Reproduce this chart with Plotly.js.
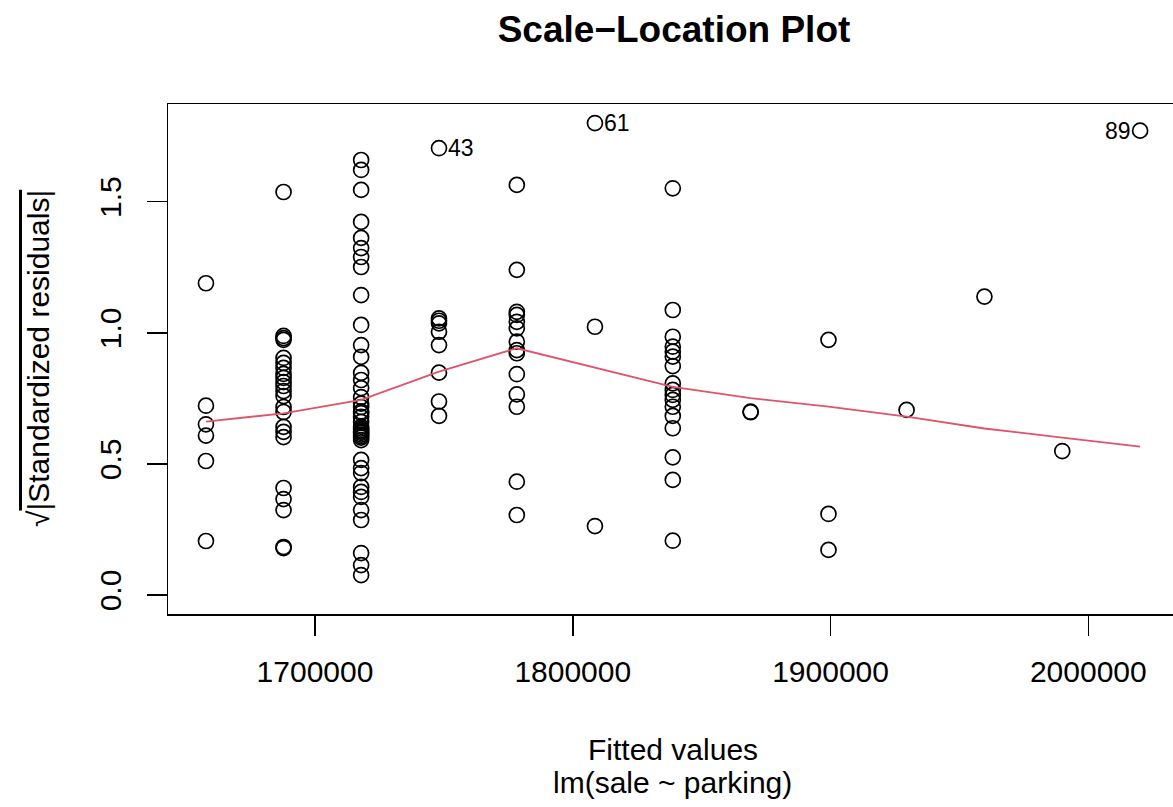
<!DOCTYPE html>
<html>
<head>
<meta charset="utf-8">
<script src="https://cdn.plot.ly/plotly-3.0.1.min.js"></script>
<style>html,body{margin:0;padding:0;background:#fff;}#chart{width:1173px;height:807px;}</style>
</head>
<body>
<div id="chart"></div>
<script>
// Fitted values (one per parking level) and sqrt(|standardized residuals|)
const fittedLevels = [1657700, 1687800, 1717900, 1748100, 1778300, 1808600, 1838800, 1869000, 1899200, 1929500, 1959700, 1989900, 2020100];

const resid0 = [1.189, 0.722, 0.651, 0.608, 0.511, 0.206];
const resid1 = [1.537, 0.988, 0.980, 0.973, 0.904, 0.885, 0.866, 0.843, 0.828, 0.812, 0.797, 0.778, 0.759, 0.717, 0.698, 0.641, 0.622, 0.602, 0.408, 0.366, 0.324, 0.183, 0.179];
const resid2 = [1.659, 1.621, 1.545, 1.423, 1.362, 1.323, 1.289, 1.251, 1.144, 1.030, 0.953, 0.908, 0.847, 0.820, 0.789, 0.755, 0.730, 0.717, 0.700, 0.694, 0.679, 0.660, 0.641, 0.635, 0.629, 0.623, 0.618, 0.612, 0.606, 0.600, 0.591, 0.515, 0.484, 0.465, 0.412, 0.393, 0.374, 0.324, 0.286, 0.160, 0.114, 0.076];
const resid3 = [1.704, 1.055, 1.046, 1.036, 1.004, 0.953, 0.848, 0.738, 0.683];
const resid4 = [1.564, 1.240, 1.080, 1.068, 1.042, 1.017, 0.966, 0.934, 0.922, 0.842, 0.765, 0.718, 0.432, 0.305];
const resid5 = [1.800, 1.023, 0.263];
const resid6 = [1.551, 1.087, 0.985, 0.947, 0.928, 0.909, 0.873, 0.807, 0.782, 0.763, 0.744, 0.718, 0.683, 0.636, 0.525, 0.439, 0.207];
const resid7 = [0.699, 0.697];
const resid8 = [0.973, 0.309, 0.172];
const resid9 = [0.706];
const resid10 = [1.138];
const resid11 = [0.549];
const resid12 = [1.771];
const residByLevel = [resid0, resid1, resid2, resid3, resid4, resid5, resid6, resid7, resid8, resid9, resid10, resid11, resid12];

// smoother (red line) at each fitted level
const smoothY = [0.661, 0.693, 0.744, 0.852, 0.941, 0.866, 0.794, 0.751, 0.718, 0.680, 0.635, 0.600, 0.566];

// labelled extreme points: [observation id, level index, value]
const labelIds = ["43", "61", "89"];
const labelLevel = [3, 5, 12];
const labelValue = [1.704, 1.800, 1.771];
const labelSide = ["right", "right", "left"];

const xTicks = [1700000, 1800000, 1900000, 2000000];
const xTickText = ["1700000", "1800000", "1900000", "2000000"];
const yTicks = [0, 0.5, 1.0, 1.5];
const yTickText = ["0.0", "0.5", "1.0", "1.5"];

const px = [], py = [];
residByLevel.forEach((arr, i) => arr.forEach(v => { px.push(fittedLevels[i]); py.push(v); }));

const FONT = "Liberation Sans, Arial, Helvetica, sans-serif";

const traces = [
  {
    x: px, y: py, type: "scatter", mode: "markers",
    marker: {symbol: "circle-open", size: 15, color: "#000000", line: {width: 1.7, color: "#000000"}},
    hoverinfo: "x+y", showlegend: false
  },
  {
    x: fittedLevels, y: smoothY, type: "scatter", mode: "lines",
    line: {color: "#DF536B", width: 1.8}, showlegend: false, hoverinfo: "skip"
  }
];

const annotations = labelIds.map((id, k) => ({
  x: fittedLevels[labelLevel[k]], y: labelValue[k], xref: "x", yref: "y",
  text: id, showarrow: false,
  xanchor: labelSide[k] === "right" ? "left" : "right",
  xshift: labelSide[k] === "right" ? 7 : -7,
  yanchor: "middle",
  font: {family: FONT, size: 23, color: "#000"}
}));

annotations.push(
  {text: "Fitted values", xref: "paper", yref: "paper", x: 0.502, y: -0.266, xanchor: "center", yanchor: "middle",
   showarrow: false, font: {family: FONT, size: 30, color: "#000"}},
  {text: "lm(sale ~ parking)", xref: "paper", yref: "paper", x: 0.502, y: -0.331, xanchor: "center", yanchor: "middle",
   showarrow: false, font: {family: FONT, size: 30, color: "#000"}},
  {text: "√<span style=\"text-decoration:overline\">|Standardized residuals|</span>", xref: "paper", yref: "paper",
   x: 0, xshift: -130, y: 0.5, xanchor: "center", yanchor: "middle", textangle: -90,
   showarrow: false, font: {family: FONT, size: 30, color: "#000"}}
);

const layout = {
  width: 1173, height: 807,
  margin: {l: 168, r: 0, t: 104, b: 193, pad: 0},
  paper_bgcolor: "#ffffff", plot_bgcolor: "#ffffff",
  font: {family: FONT, size: 30, color: "#000"},
  title: {
    text: "<b>Scale−Location Plot</b>",
    font: {family: FONT, size: 37, color: "#000"},
    x: 674 / 1173, xref: "container", xanchor: "center",
    y: 1 - 29 / 807, yref: "container", yanchor: "middle"
  },
  xaxis: {
    range: [1642972, 2032855], showgrid: false, zeroline: false,
    showline: true, mirror: true, linecolor: "#000", linewidth: 1.5,
    ticks: "outside", ticklen: 20, tickwidth: 1.5, tickcolor: "#000",
    tickvals: xTicks, ticktext: xTickText, ticklabelstandoff: 10,
    tickfont: {family: FONT, size: 30, color: "#000"}
  },
  yaxis: {
    range: [-0.0725, 1.8726], showgrid: false, zeroline: false,
    showline: true, linecolor: "#000", linewidth: 1.5,
    ticks: "outside", ticklen: 20, tickwidth: 1.5, tickcolor: "#000",
    tickvals: yTicks, ticktext: yTickText, tickangle: -90, ticklabelstandoff: 14,
    tickfont: {family: FONT, size: 30, color: "#000"}
  },
  annotations: annotations,
  hovermode: "closest"
};

Plotly.newPlot("chart", traces, layout, {displayModeBar: false, staticPlot: true});
</script>
</body>
</html>
